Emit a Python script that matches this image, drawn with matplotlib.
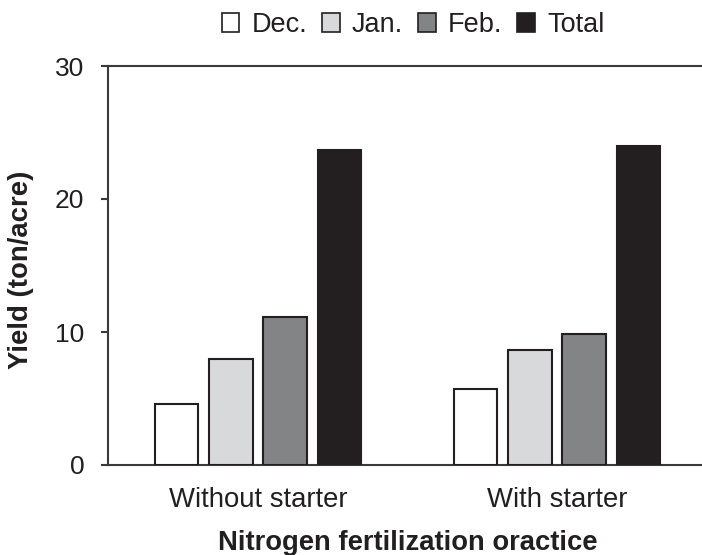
import matplotlib
matplotlib.use("Agg")
import matplotlib.pyplot as plt
import numpy as np
from matplotlib.patches import Patch

groups = ["Without starter", "With starter"]
series_names = ["Dec.", "Jan.", "Feb.", "Total"]
dec = [4.6, 5.7]
jan = [8.0, 8.65]
feb = [11.1, 9.85]
total = [23.7, 24.0]
yticks = [0, 10, 20, 30]

colors = ["#ffffff", "#d8d9db", "#838486", "#231f20"]
edge = "#231f20"
text_col = "#231f20"

plt.rcParams['font.family'] = ['Liberation Sans', 'DejaVu Sans']

fig = plt.figure(figsize=(7.02, 5.55), dpi=100)
ax = fig.add_axes([108/702, (555-465)/555, 1 - 108/702, (465-66)/555])

x = np.arange(len(groups))
width = 0.1455
step = 0.1816
for i, (vals, c) in enumerate(zip([dec, jan, feb, total], colors)):
    ax.bar(x + (i - 1.5) * step, vals, width, color=c, edgecolor=edge,
           linewidth=1.5, zorder=3)

ax.set_xlim(-0.502, 1.485)
ax.set_ylim(0, 30)
ax.set_yticks(yticks)
ax.set_yticklabels([str(t) for t in yticks])
ax.set_xticks(x)
ax.set_xticklabels(groups)

for s in ["left", "top", "bottom"]:
    ax.spines[s].set_color("#3a3a3a")
    ax.spines[s].set_linewidth(1.5)
ax.spines["right"].set_visible(False)

ax.tick_params(axis="y", direction="out", length=5, width=1.5, color="#3a3a3a",
               pad=12, labelsize=19, labelcolor=text_col)
ax.tick_params(axis="x", length=0, pad=15.5, labelsize=19.8, labelcolor=text_col)

ax.set_ylabel("Yield (ton/acre)", fontsize=19.8, fontweight="bold", color=text_col)
ax.yaxis.set_label_coords(-0.125, 0.49)
ax.set_xlabel("Nitrogen fertilization oractice", fontsize=19.7, fontweight="bold",
              color=text_col)
ax.xaxis.set_label_coords(0.504, -0.163)

handles = [Patch(facecolor=c, edgecolor=edge, linewidth=1.2) for c in colors]
fig.legend(handles, series_names, loc="center", bbox_to_anchor=(413/702, 1 - 25/555),
           ncol=4, frameon=False, fontsize=19.5, handlelength=0.65, handleheight=0.65,
           handletextpad=0.45, columnspacing=0.55, labelcolor=text_col)

fig.savefig("out.png", dpi=100)
